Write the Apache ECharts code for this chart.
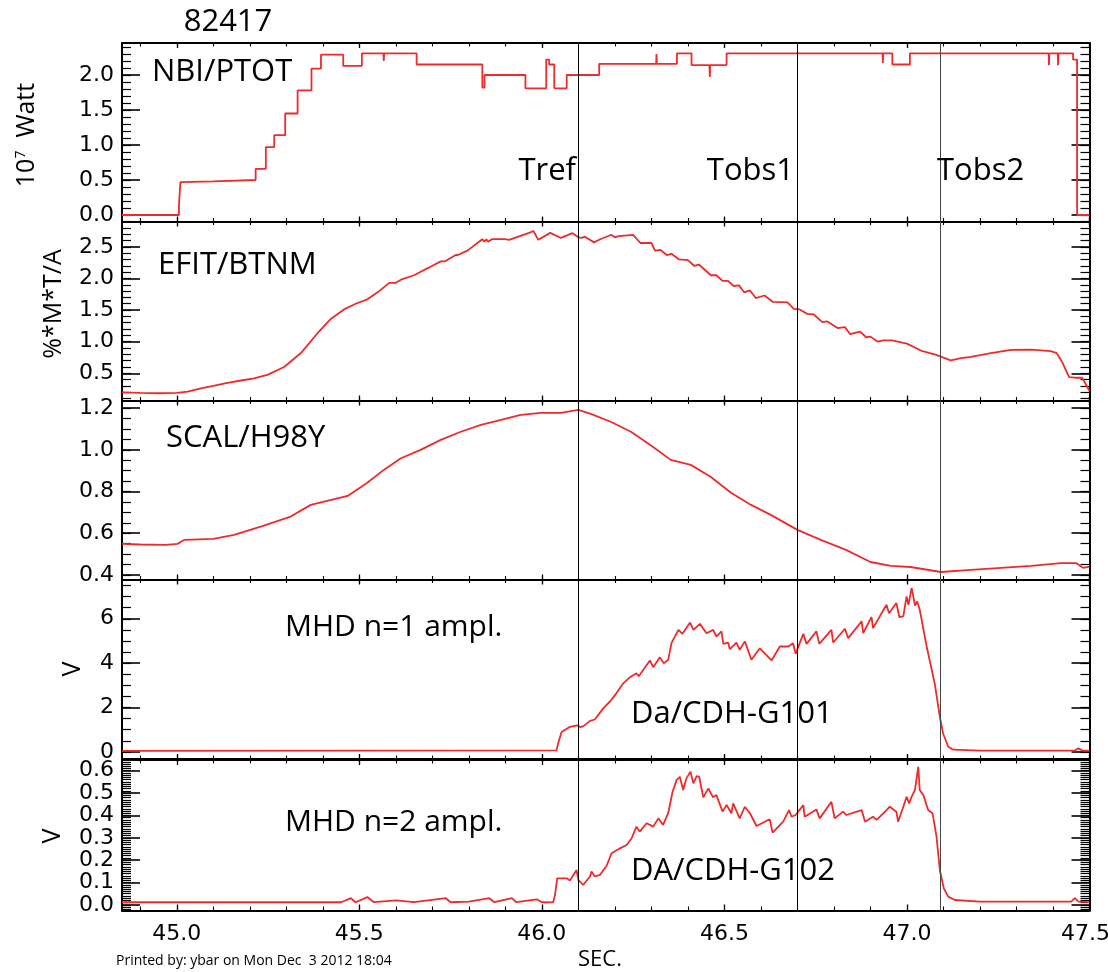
<!DOCTYPE html>
<html>
<head>
<meta charset="utf-8">
<script src="https://cdn.jsdelivr.net/npm/echarts@6/dist/echarts.min.js"></script>
<style>html,body{margin:0;padding:0;background:#fff}#c{width:1108px;height:972px}</style>
</head>
<body>
<div id="c"></div>
<script>
// ---------------- DATA ----------------
const shotNumber = '82417';
const xTickValues = [45.0, 45.5, 46.0, 46.5, 47.0, 47.5];
const refTimes = [46.1, 46.7, 47.09];
const refLabels = ['Tref', 'Tobs1', 'Tobs2'];
const panelNames = ['NBI/PTOT', 'EFIT/BTNM', 'SCAL/H98Y', 'MHD n=1 ampl.', 'MHD n=2 ampl.'];
const subNames = ['Da/CDH-G101', 'DA/CDH-G102'];

const yTicksNbi = [0.0, 0.5, 1.0, 1.5, 2.0];
const yTicksBtnm = [0.5, 1.0, 1.5, 2.0, 2.5];
const yTicksH98 = [0.4, 0.6, 0.8, 1.0, 1.2];
const yTicksMhd1 = [0, 2, 4, 6];
const yTicksMhd2 = [0.0, 0.1, 0.2, 0.3, 0.4, 0.5, 0.6];

const nbiT = [44.85,45.006,45.006,45.01,45.01,45.1,45.216,45.216,45.244,45.244,45.267,45.267,45.297,45.297,45.331,45.331,45.369,45.369,45.395,45.395,45.456,45.456,45.507,45.507,45.566,45.567,45.568,45.657,45.657,45.837,45.837,45.843,45.843,45.955,45.955,46.012,46.012,46.02,46.02,46.034,46.034,46.068,46.068,46.157,46.157,46.313,46.314,46.315,46.37,46.37,46.41,46.41,46.459,46.46,46.461,46.506,46.506,46.933,46.934,46.935,46.96,46.96,47.008,47.008,47.388,47.389,47.39,47.413,47.414,47.415,47.455,47.455,47.466,47.466,47.5];
const nbiV = [0,0,0.15,0.15,0.47,0.48,0.5,0.66,0.66,0.97,0.97,1.14,1.14,1.45,1.45,1.78,1.78,2.09,2.09,2.29,2.29,2.13,2.13,2.31,2.31,2.2,2.31,2.31,2.15,2.15,1.82,1.82,2.0,2.0,1.81,1.81,2.22,2.22,2.15,2.15,1.81,1.81,2.0,2.0,2.16,2.16,2.3,2.16,2.16,2.31,2.31,2.14,2.14,1.97,2.14,2.14,2.31,2.31,2.17,2.31,2.31,2.15,2.15,2.31,2.31,2.14,2.31,2.31,2.14,2.31,2.31,2.22,2.22,0.0,0.0];

const btnmT = [44.85,44.9,44.95,45.0,45.03,45.066,45.1,45.139,45.18,45.212,45.25,45.294,45.34,45.385,45.42,45.458,45.49,45.522,45.55,45.582,45.6,45.614,45.65,45.69,45.723,45.735,45.764,45.77,45.796,45.837,45.843,45.848,45.853,45.863,45.9,45.91,45.965,45.977,45.99,46.023,46.052,46.084,46.1,46.11,46.118,46.143,46.16,46.19,46.2,46.21,46.25,46.27,46.3,46.31,46.325,46.342,46.355,46.376,46.4,46.417,46.43,46.463,46.478,46.495,46.51,46.525,46.54,46.554,46.57,46.586,46.61,46.632,46.673,46.69,46.706,46.727,46.745,46.768,46.782,46.81,46.83,46.844,46.872,46.888,46.9,46.92,46.935,46.96,46.99,47.0,47.038,47.08,47.12,47.148,47.175,47.23,47.285,47.34,47.394,47.41,47.425,47.444,47.46,47.48,47.5];
const btnmV = [0.2,0.19,0.185,0.19,0.21,0.26,0.3,0.35,0.39,0.42,0.48,0.6,0.82,1.13,1.35,1.51,1.6,1.67,1.78,1.93,1.93,1.98,2.05,2.17,2.27,2.27,2.37,2.37,2.44,2.62,2.58,2.62,2.58,2.62,2.62,2.61,2.72,2.75,2.61,2.72,2.64,2.715,2.65,2.64,2.66,2.57,2.62,2.69,2.65,2.67,2.69,2.56,2.56,2.44,2.45,2.37,2.39,2.3,2.29,2.2,2.22,2.05,2.05,1.96,1.96,1.88,1.89,1.78,1.81,1.69,1.73,1.63,1.62,1.52,1.51,1.44,1.43,1.31,1.32,1.215,1.23,1.12,1.16,1.07,1.08,1.0,1.02,1.02,0.98,0.97,0.86,0.79,0.705,0.74,0.76,0.82,0.87,0.875,0.85,0.82,0.68,0.44,0.43,0.43,0.22];

const h98T = [44.85,44.9,44.97,45.002,45.02,45.1,45.157,45.23,45.312,45.367,45.468,45.52,45.567,45.614,45.668,45.723,45.778,45.833,45.888,45.942,45.997,46.052,46.1,46.134,46.19,46.244,46.3,46.353,46.408,46.463,46.518,46.573,46.627,46.7,46.764,46.833,46.9,46.956,47.01,47.093,47.175,47.258,47.34,47.422,47.463,47.482,47.5];
const h98V = [0.549,0.546,0.544,0.549,0.568,0.573,0.592,0.632,0.68,0.736,0.779,0.84,0.904,0.96,1.0,1.048,1.087,1.12,1.144,1.168,1.178,1.178,1.192,1.173,1.134,1.087,1.02,0.952,0.928,0.87,0.794,0.736,0.688,0.616,0.568,0.52,0.462,0.443,0.438,0.414,0.424,0.434,0.443,0.457,0.457,0.434,0.44];

const mhd1Points = [[44.85,0.05],[45.5,0.06],[46.04,0.07],[46.045,0.4],[46.054,0.9],[46.077,1.13],[46.097,1.2],[46.105,1.12],[46.113,1.15],[46.132,1.4],
[46.145,1.46],[46.168,1.96],[46.186,2.26],[46.204,2.64],[46.223,3.09],[46.241,3.36],[46.259,3.54],[46.266,3.42],[46.296,4.12],[46.305,3.82],
[46.323,4.27],[46.334,3.99],[46.346,4.15],[46.355,4.9],[46.374,5.5],[46.385,5.32],[46.406,5.83],[46.415,5.5],[46.433,5.77],[46.451,5.35],
[46.469,5.5],[46.478,5.2],[46.492,5.43],[46.497,4.87],[46.51,4.93],[46.515,4.63],[46.533,4.93],[46.542,4.6],[46.556,4.98],[46.574,4.15],
[46.597,4.67],[46.629,4.12],[46.652,4.75],[46.675,4.75],[46.688,4.9],[46.695,4.42],[46.716,5.32],[46.725,4.87],[46.752,5.43],[46.76,4.87],
[46.793,5.5],[46.798,4.93],[46.83,5.55],[46.839,5.13],[46.876,5.88],[46.88,5.35],[46.903,6.08],[46.907,5.58],[46.944,6.63],[46.951,6.25],
[46.971,6.71],[46.979,6.08],[46.99,6.11],[46.999,7.01],[47.004,6.63],[47.013,7.39],[47.022,6.59],[47.028,6.78],[47.035,6.41],[47.054,4.75],
[47.067,3.77],[47.076,3.09],[47.09,1.59],[47.099,0.83],[47.113,0.23],[47.127,0.1],[47.2,0.06],[47.46,0.06],[47.47,0.16],[47.48,0.07],[47.5,0.05]];

const mhd2Points = [[44.85,0.012],[45.45,0.012],[45.477,0.03],[45.49,0.012],[45.522,0.035],[45.54,0.012],[45.6,0.02],[45.65,0.012],[45.737,0.03],[45.75,0.012],
[45.8,0.015],[45.856,0.03],[45.87,0.012],[45.918,0.03],[45.93,0.012],[45.986,0.025],[46.0,0.012],[46.031,0.011],[46.036,0.045],[46.042,0.119],
[46.068,0.119],[46.077,0.109],[46.095,0.156],[46.1,0.112],[46.113,0.089],[46.132,0.127],[46.136,0.149],[46.145,0.127],[46.159,0.134],[46.177,0.174],
[46.191,0.231],[46.214,0.253],[46.232,0.268],[46.246,0.298],[46.259,0.35],[46.268,0.328],[46.287,0.365],[46.305,0.35],[46.319,0.387],[46.332,0.358],
[46.346,0.41],[46.358,0.506],[46.369,0.558],[46.378,0.573],[46.387,0.514],[46.396,0.566],[46.407,0.596],[46.415,0.544],[46.424,0.576],[46.431,0.573],
[46.442,0.481],[46.456,0.521],[46.469,0.481],[46.478,0.491],[46.495,0.417],[46.506,0.447],[46.519,0.41],[46.524,0.454],[46.542,0.387],[46.556,0.439],
[46.57,0.41],[46.588,0.353],[46.624,0.383],[46.632,0.323],[46.661,0.372],[46.677,0.424],[46.684,0.394],[46.695,0.402],[46.716,0.446],[46.72,0.394],
[46.752,0.427],[46.761,0.387],[46.793,0.461],[46.802,0.387],[46.825,0.417],[46.834,0.402],[46.876,0.424],[46.885,0.372],[46.907,0.394],[46.917,0.38],
[46.944,0.424],[46.953,0.439],[46.971,0.417],[46.976,0.372],[46.99,0.439],[46.999,0.484],[47.006,0.454],[47.013,0.484],[47.022,0.514],[47.031,0.618],
[47.035,0.514],[47.045,0.491],[47.058,0.424],[47.07,0.41],[47.081,0.305],[47.09,0.156],[47.101,0.074],[47.113,0.037],[47.131,0.022],[47.2,0.015],
[47.45,0.015],[47.46,0.03],[47.47,0.015],[47.5,0.012]];

// ---------------- CHART ----------------
const RED = '#ee2b2b';
const FONT = '"Open Sans", "Noto Sans", sans-serif';
const TICK_FONT = '"DejaVu Sans", sans-serif';
const X_MIN = 44.85, X_MAX = 47.5;

const zip = (t, v) => t.map((x, i) => [x, v[i]]);
function steps(min, max, step) {
  const out = [];
  const k0 = Math.ceil(min / step - 1e-9), k1 = Math.floor(max / step + 1e-9);
  for (let k = k0; k <= k1; k++) out.push(+(k * step).toFixed(4));
  return out;
}

const panels = [
  { data: zip(nbiT, nbiV), min: -0.093, max: 2.457, ticks: yTicksNbi, minor: 0.1, dec: 1 },
  { data: zip(btnmT, btnmV), min: 0.07, max: 2.9, ticks: yTicksBtnm, minor: 0.1, dec: 1 },
  { data: zip(h98T, h98V), min: 0.378, max: 1.237, ticks: yTicksH98, minor: 0.05, dec: 1 },
  { data: mhd1Points, min: -0.32, max: 7.77, ticks: yTicksMhd1, minor: 0.5, dec: 0 },
  { data: mhd2Points, min: -0.025, max: 0.648, ticks: yTicksMhd2, minor: 0.01, dec: 1 }
];
const layout = [[43, 178.5], [221.5, 179], [400.5, 179], [579.5, 179.5], [760, 150.5]];
const xMinor = steps(X_MIN, X_MAX, 0.1);
const lastX = xTickValues[xTickValues.length - 1];

const grids = [], xAxes = [], yAxes = [], series = [];
const blackLine = { show: true, onZero: false, lineStyle: { color: '#000', width: 2 } };
panels.forEach((p, i) => {
  const [top, h] = layout[i];
  const last = i === panels.length - 1;
  grids.push({ left: 122, right: 18.5, top: top, height: h, containLabel: false, outerBoundsMode: 'none' });
  const xb = { type: 'value', gridIndex: i, min: X_MIN, max: X_MAX, splitLine: { show: false },
    axisLine: { show: false, onZero: false }, axisLabel: { show: false } };
  const tk = (len, vals, w) => ({ show: true, inside: true, length: len, customValues: vals, lineStyle: { color: '#000', width: w } });
  xAxes.push(Object.assign({}, xb, { position: 'bottom', axisLine: blackLine, axisTick: tk(last ? 6 : 5, xTickValues, 1.3),
    axisLabel: { show: last, customValues: xTickValues,
      formatter: v => (Math.abs(v - lastX) < 1e-6 ? '{m|' + v.toFixed(1) + '}' : v.toFixed(1)),
      rich: { m: { fontSize: 22, fontFamily: TICK_FONT, color: '#000', padding: [0, 8, 0, 0] } },
      color: '#000', fontSize: 22,
      fontFamily: TICK_FONT, margin: 13, showMinLabel: true, showMaxLabel: true, hideOverlap: false } }));
  xAxes.push(Object.assign({}, xb, { position: 'bottom', axisTick: tk(last ? 4 : 3.5, xMinor, 1.1) }));
  xAxes.push(Object.assign({}, xb, { position: 'top', axisLine: blackLine, axisTick: tk(5, xTickValues, 1.3) }));
  xAxes.push(Object.assign({}, xb, { position: 'top', axisTick: tk(3.5, xMinor, 1.1) }));

  const yMinor = steps(p.min, p.max, p.minor);
  const yb = { type: 'value', gridIndex: i, min: p.min, max: p.max, splitLine: { show: false },
    axisLine: { show: false, onZero: false }, axisLabel: { show: false } };
  yAxes.push(Object.assign({}, yb, { position: 'left', axisLine: blackLine, axisTick: tk(18, p.ticks, 1.6),
    axisLabel: { show: true, customValues: p.ticks, formatter: v => v.toFixed(p.dec), color: '#000', fontSize: 22,
      fontFamily: TICK_FONT, margin: 8, showMinLabel: true, showMaxLabel: true, hideOverlap: false } }));
  yAxes.push(Object.assign({}, yb, { position: 'left', axisTick: tk(9, yMinor, 1.2) }));
  yAxes.push(Object.assign({}, yb, { position: 'right', axisLine: blackLine, axisTick: tk(18, p.ticks, 1.6) }));
  yAxes.push(Object.assign({}, yb, { position: 'right', axisTick: tk(9, yMinor, 1.2) }));

  series.push({
    type: 'line', xAxisIndex: 4 * i, yAxisIndex: 4 * i, data: p.data,
    showSymbol: false, symbol: 'none', silent: true, animation: false,
    lineStyle: { color: RED, width: 1.8 }, itemStyle: { color: RED },
    markLine: {
      silent: true, symbol: ['none', 'none'], animation: false,
      label: { show: false },
      lineStyle: { color: '#000', width: 1, type: 'solid' },
      emphasis: { disabled: true },
      data: refTimes.map((t, j) => ({ xAxis: t, lineStyle: { color: j === 2 ? '#444' : '#000', width: 1, type: 'solid' } }))
    }
  });
});

function txt(x, y, s, size, align, rot, fam) {
  return {
    type: 'text', x: x, y: y, rotation: rot || 0, silent: true, z: 100,
    style: { text: s, fontSize: size, fontFamily: fam || FONT, fill: '#000',
      align: align, verticalAlign: 'middle', textAlign: align, textVerticalAlign: 'middle' }
  };
}
const graphics = [
  txt(228, 22, shotNumber, 31, 'center'),
  txt(152, 72, panelNames[0], 31, 'left'),
  txt(576, 171, refLabels[0], 31, 'right'),
  txt(794, 171, refLabels[1], 31, 'right'),
  txt(937, 171, refLabels[2], 31, 'left'),
  txt(158, 265, panelNames[1], 31, 'left'),
  txt(166, 438, panelNames[2], 31, 'left'),
  txt(285, 627, panelNames[3], 30, 'left'),
  txt(631, 714, subNames[0], 31, 'left'),
  txt(285, 822, panelNames[4], 30, 'left'),
  txt(631, 871, subNames[1], 31, 'left'),
  txt(54, 304, '%*M*T/A', 25, 'center', Math.PI / 2),
  txt(73, 669, 'V', 25, 'center', Math.PI / 2),
  txt(53, 836, 'V', 25, 'center', Math.PI / 2),
  {
    type: 'text', x: 27, y: 135, rotation: Math.PI / 2, silent: true, z: 100,
    style: { text: '{a|10}{s|7}{a|  Watt}', fill: '#000', align: 'center', verticalAlign: 'middle',
      textAlign: 'center', textVerticalAlign: 'middle',
      rich: { a: { fontSize: 25, fontFamily: FONT, fill: '#000' },
              s: { fontSize: 14, fontFamily: FONT, fill: '#000', verticalAlign: 'top' } } }
  },
  txt(600, 960, 'SEC.', 22, 'center'),
  txt(116, 961, 'Printed by: ybar on Mon Dec  3 2012 18:04', 14, 'left')
];

const chart = echarts.init(document.getElementById('c'), null, { renderer: 'canvas' });
chart.setOption({
  animation: false,
  backgroundColor: '#fff',
  grid: grids,
  xAxis: xAxes,
  yAxis: yAxes,
  series: series,
  graphic: graphics
});
</script>
</body>
</html>
